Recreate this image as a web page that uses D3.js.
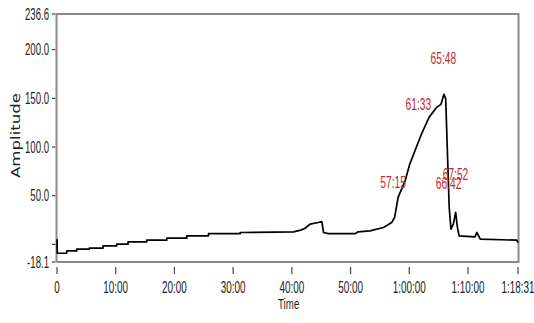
<!DOCTYPE html>
<html>
<head>
<meta charset="utf-8">
<script src="https://cdn.jsdelivr.net/npm/d3@7"></script>
<style>
  html, body { margin: 0; padding: 0; background: #ffffff; }
  svg { display: block; }
</style>
</head>
<body>
<svg id="chart" width="534" height="323"></svg>
<script>
// Elapsed run time in minutes and the recorded amplitude at each sample
const traceMinutes = [0, 0.05, 1.65, 1.65, 3.36, 3.36, 5.5, 5.5, 7.84, 7.84, 10.17, 10.17,
  12.1, 12.1, 15.28, 15.28, 18.7, 18.7, 22.1, 22.1, 25.8, 25.8, 31.2, 31.2, 40.3, 41.5,
  42.2, 43.1, 44.5, 45.1, 45.4, 46.2, 50.8, 51.3, 53.3, 55.6, 57.0, 57.5, 58.1, 59.3,
  60.1, 61.2, 62.1, 63.0, 63.4, 64.7, 65.4, 65.9, 66.2, 66.8, 67.1, 67.5, 67.9, 68.2,
  68.5, 71.2, 71.5, 72.1, 78.3, 78.52];
const traceAmplitude = [5.4, -9.1, -9.1, -6.7, -6.7, -4.9, -4.9, -3.9, -3.9, -1.5, -1.5, 0.2,
  0.2, 2.6, 2.6, 4.3, 4.3, 6.4, 6.4, 8.8, 8.8, 11.0, 11.0, 12.2, 12.8, 14.6,
  16.3, 20.8, 22.5, 23.5, 12.2, 11.1, 11.1, 12.9, 13.9, 17.3, 22.5, 27.6, 48.2, 65.5,
  82.7, 99.8, 113.6, 125.6, 130.7, 141.0, 143.8, 154.1, 149.7, 37.9, 15.7, 20.8, 32.8, 17.3,
  8.8, 7.7, 12.2, 5.4, 4.3, 1.9];

// Marked events: time label, time in minutes, amplitude near the mark
const markLabels = ["57:15", "61:33", "65:48", "66:42", "67:52"];
const markMinutes = [57.25, 61.55, 65.8, 66.7, 67.87];
const markAmplitude = [25, 105, 152, 24, 33];

// Axis ticks
const xTickMinutes = [0, 10, 20, 30, 40, 50, 60, 70, 78.517];
const xTickLabels = ["0", "10:00", "20:00", "30:00", "40:00", "50:00", "1:00:00", "1:10:00", "1:18:31"];
const yTickValues = [-18.1, 0, 50, 100, 150, 200, 236.6];
const yTickLabels = ["-18.1", "", "50.0", "100.0", "150.0", "200.0", "236.6"];

const svg = d3.select("#chart");
const frameLeft = 56.5, frameRight = 518.5, frameTop = 14, frameBottom = 262;

const x = d3.scaleLinear().domain([0, 78.517]).range([57, 518]);
const y = d3.scaleLinear().domain([-18.1, 236.6]).range([frameBottom, frameTop]);

// Squeeze text horizontally by a factor to get the narrow lettering
function squeeze(sel, f) {
  sel.each(function () {
    const n = this.getComputedTextLength();
    if (n > 0) {
      this.setAttribute("textLength", n * f);
      this.setAttribute("lengthAdjust", "spacingAndGlyphs");
    }
  });
}

const tickFont = "'Liberation Sans', Arial, sans-serif";

// Y axis ticks and labels
const yAxis = svg.append("g");
yAxis.selectAll("line").data(yTickValues).join("line")
  .attr("x1", 52).attr("x2", 55.5)
  .attr("y1", d => y(d)).attr("y2", d => y(d))
  .attr("stroke", "#444").attr("stroke-width", 1.2);
const yLab = yAxis.selectAll("text").data(yTickValues).join("text")
  .attr("x", 49).attr("y", d => y(d))
  .attr("text-anchor", "end").attr("dominant-baseline", "central")
  .attr("font-family", tickFont).attr("font-size", 16).attr("fill", "#222")
  .text((d, i) => yTickLabels[i]);
squeeze(yLab, 0.6);

// X axis ticks and labels
const xAxis = svg.append("g");
xAxis.selectAll("line").data(xTickMinutes).join("line")
  .attr("x1", d => x(d)).attr("x2", d => x(d))
  .attr("y1", 267).attr("y2", 274)
  .attr("stroke", "#444").attr("stroke-width", 1.2);
const xLab = xAxis.selectAll("text").data(xTickMinutes).join("text")
  .attr("x", d => x(d)).attr("y", 287)
  .attr("text-anchor", "middle").attr("dominant-baseline", "central")
  .attr("font-family", tickFont).attr("font-size", 16.5).attr("fill", "#222")
  .text((d, i) => xTickLabels[i]);
squeeze(xLab, 0.6);

// Plot frame
svg.append("path")
  .attr("d", `M${frameLeft},${frameBottom}V${frameTop}H${frameRight}V${frameBottom}H${frameLeft}`)
  .attr("fill", "none").attr("stroke", "#8a8a8a").attr("stroke-width", 2);

// Trace
const pts = traceMinutes.map((t, i) => [t, traceAmplitude[i]]);
svg.append("path")
  .datum(pts)
  .attr("d", d3.line().x(d => x(d[0])).y(d => y(d[1])))
  .attr("fill", "none").attr("stroke", "#000").attr("stroke-width", 1.7)
  .attr("stroke-linejoin", "round");

// Event labels
const mk = svg.append("g").selectAll("text").data(markMinutes).join("text")
  .attr("x", d => x(d))
  .attr("y", (d, i) => y(markAmplitude[i]) - 38)
  .attr("text-anchor", "middle").attr("dominant-baseline", "central")
  .attr("font-family", tickFont).attr("font-size", 17).attr("fill", "#c8262e")
  .text((d, i) => markLabels[i]);
squeeze(mk, 0.6);

// Axis titles
const tt = svg.append("text")
  .attr("x", 278).attr("y", 303)
  .attr("dominant-baseline", "central")
  .attr("font-family", tickFont).attr("font-size", 15).attr("fill", "#222")
  .text("Time");
squeeze(tt, 0.65);

svg.append("text")
  .attr("transform", "translate(16,135.5) rotate(-90)")
  .attr("text-anchor", "middle").attr("dominant-baseline", "central")
  .attr("font-family", "'DejaVu Sans', Verdana, sans-serif").attr("font-size", 11.5)
  .attr("fill", "#222")
  .attr("textLength", 85).attr("lengthAdjust", "spacingAndGlyphs")
  .text("Amplitude");
</script>
</body>
</html>
